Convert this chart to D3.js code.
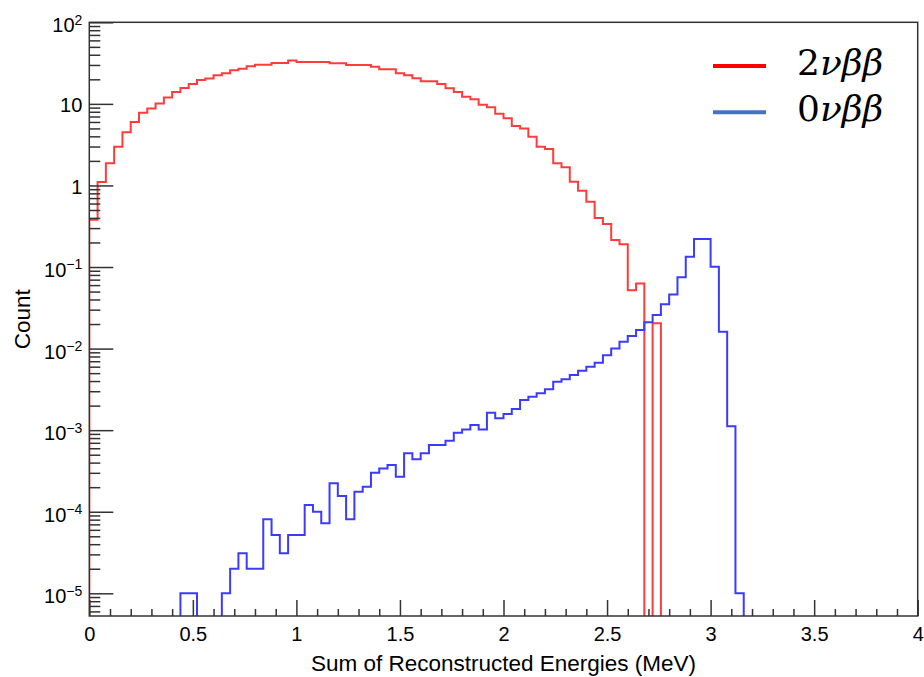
<!DOCTYPE html>
<html>
<head>
<meta charset="utf-8">
<script src="https://d3js.org/d3.v7.min.js"></script>
<style>
    body { margin: 0; background: #fff; }
    svg text { font-family: "Liberation Sans", Arial, Helvetica, sans-serif; fill: #000; }
</style>
</head>
<body>
<div id="chart"></div>
<script>
// histogram binning: 100 bins between 0 and 4 MeV
var xRange = [0, 4],
    nBins = 100;

// 2nu double beta (red), counts per bin
var counts2nu = [
    0.38, 1.1, 1.87, 2.98, 4.48, 6.0, 7.8, 8.8, 10.1, 12.0,
    14.0, 15.7, 17.5, 19.6, 20.4, 22.4, 23.7, 25.8, 27.0, 28.9,
    30.2, 30.2, 31.7, 31.7, 33.9, 32.6, 32.6, 32.6, 32.6, 31.4,
    31.4, 30.0, 30.0, 30.0, 28.6, 26.5, 26.5, 23.7, 22.4, 20.6,
    18.9, 18.9, 17.5, 15.5, 14.0, 12.2, 11.4, 9.77, 9.08, 7.59,
    6.65, 5.36, 5.0, 3.96, 2.98, 2.80, 1.87, 1.67, 1.11, 0.86,
    0.63, 0.40, 0.337, 0.214, 0.19, 0.052, 0.063, 0, 0.0204, 0,
    0, 0, 0, 0, 0, 0, 0, 0, 0, 0,
    0, 0, 0, 0, 0, 0, 0, 0, 0, 0,
    0, 0, 0, 0, 0, 0, 0, 0, 0, 0
];

// 0nu double beta (blue)
var counts0nu = [
    0, 0, 0, 0, 0, 0, 0, 0, 0, 0,
    0, 1e-5, 1e-5, 0, 0, 0, 1e-5, 2.0e-5, 3.1e-5, 2.0e-5,
    2.0e-5, 8.1e-5, 5.2e-5, 3.1e-5, 5.2e-5, 5.2e-5, 1.21e-4, 1.0e-4, 7.2e-5, 2.23e-4,
    1.56e-4, 8.1e-5, 1.76e-4, 2.03e-4, 3.0e-4, 3.4e-4, 3.74e-4, 2.69e-4, 5.2e-4, 4.4e-4,
    5.2e-4, 6.6e-4, 6.6e-4, 7.4e-4, 9.3e-4, 1.02e-3, 1.16e-3, 1.02e-3, 1.64e-3, 1.4e-3,
    1.58e-3, 1.82e-3, 2.34e-3, 2.57e-3, 2.83e-3, 3.17e-3, 3.93e-3, 4.2e-3, 4.74e-3, 5.36e-3,
    6.0e-3, 6.7e-3, 8.3e-3, 1.0e-2, 1.21e-2, 1.43e-2, 1.69e-2, 2.1e-2, 2.58e-2, 3.5e-2,
    4.6e-2, 7.5e-2, 0.134, 0.22, 0.22, 0.101, 1.61e-2, 1.12e-3, 1e-5, 0,
    0, 0, 0, 0, 0, 0, 0, 0, 0, 0,
    0, 0, 0, 0, 0, 0, 0, 0, 0, 0
];

var seriesLabels = ["2νββ", "0νββ"];
var xMajorTicks = [0, 0.5, 1, 1.5, 2, 2.5, 3, 3.5, 4];
var xMinorStep = 0.1;
var yDomain = [5.27e-6, 100];
var xTitle = "Sum of Reconstructed Energies (MeV)",
    yTitle = "Count";

var width = 924,
    height = 677,
    frame = { left: 89.3, right: 917.7, top: 22.3, bottom: 616 },
    axisColor = "#333";

var svg = d3.select("#chart").append("svg")
    .attr("width", width)
    .attr("height", height)
    .style("display", "block");

svg.append("rect").attr("width", width).attr("height", height).attr("fill", "#fff");

var x = d3.scaleLinear().domain(xRange).range([frame.left, frame.right]),
    y = d3.scaleLog().domain(yDomain).range([frame.bottom, frame.top]);

svg.append("clipPath").attr("id", "plotClip")
    .append("rect")
    .attr("x", frame.left).attr("y", frame.top)
    .attr("width", frame.right - frame.left)
    .attr("height", frame.bottom - frame.top);

var edges = d3.range(nBins + 1).map(function (i) {
    return xRange[0] + i * (xRange[1] - xRange[0]) / nBins;
});
// empty bins on a log axis fall below the frame (and get clipped)
var floorVal = yDomain[0] / 3;

function stepPoints(counts) {
    var pts = [[edges[0], floorVal]];
    counts.forEach(function (c, i) {
        pts.push([edges[i], c > 0 ? c : floorVal]);
    });
    pts.push([edges[nBins], floorVal]);
    return pts;
}

var line = d3.line()
    .x(function (d) { return x(d[0]); })
    .y(function (d) { return y(d[1]); })
    .curve(d3.curveStepAfter);

var hists = svg.append("g").attr("clip-path", "url(#plotClip)");
hists.append("path")
    .attr("d", line(stepPoints(counts2nu)))
    .attr("fill", "none").attr("stroke", "#ff3b3b").attr("stroke-width", 2);
hists.append("path")
    .attr("d", line(stepPoints(counts0nu)))
    .attr("fill", "none").attr("stroke", "#3b3bff").attr("stroke-width", 2);

// frame
svg.append("rect")
    .attr("x", frame.left).attr("y", frame.top)
    .attr("width", frame.right - frame.left)
    .attr("height", frame.bottom - frame.top)
    .attr("fill", "none").attr("stroke", axisColor).attr("stroke-width", 1.5);

// x axis: minor ticks then major ticks with labels
var xMinor = d3.range(xRange[0], xRange[1] + 1e-9, xMinorStep).filter(function (v) {
    return xMajorTicks.indexOf(Math.round(v * 10) / 10) < 0;
});
svg.append("g").attr("transform", "translate(0," + frame.bottom + ")")
    .call(d3.axisBottom(x).tickValues(xMinor).tickSize(-7).tickSizeOuter(0).tickFormat(""));
svg.append("g").attr("class", "xmajor").attr("transform", "translate(0," + frame.bottom + ")")
    .call(d3.axisBottom(x).tickValues(xMajorTicks).tickSize(-16).tickSizeOuter(0).tickPadding(11)
        .tickFormat(d3.format("")));

// y axis: log ticks, decades are major
var yAll = y.ticks(),
    isDecade = function (v) { return Math.abs(Math.log10(v) - Math.round(Math.log10(v))) < 1e-9; },
    yMajor = yAll.filter(isDecade),
    yMinor = yAll.filter(function (v) { return !isDecade(v); });

svg.append("g").attr("transform", "translate(" + frame.left + ",0)")
    .call(d3.axisLeft(y).tickValues(yMinor).tickSize(-11).tickSizeOuter(0).tickFormat(""));
var yAxisG = svg.append("g").attr("class", "ymajor").attr("transform", "translate(" + frame.left + ",0)")
    .call(d3.axisLeft(y).tickValues(yMajor).tickSize(-24).tickSizeOuter(0).tickPadding(7).tickFormat(""));

svg.selectAll(".domain").remove();
svg.selectAll(".tick line").attr("stroke", axisColor).attr("stroke-width", 1.5);
svg.selectAll(".xmajor text").attr("font-size", 20).attr("fill", "#000");

// ROOT style labels: 1, 10, otherwise 10^n
yAxisG.selectAll(".tick text").each(function (v) {
    var e = Math.round(Math.log10(v)),
        t = d3.select(this).attr("font-size", 20).attr("fill", "#000").text(null);
    if (e === 0 || e === 1) {
        t.attr("dy", "0.38em").text(e === 0 ? "1" : "10");
    } else {
        t.attr("dy", "0.48em").text("10");
        t.append("tspan").attr("font-size", 14).attr("dy", -7.7)
            .text((e < 0 ? "\u2212" : "") + Math.abs(e));
    }
});

// axis titles
svg.append("text")
    .attr("x", (frame.left + frame.right) / 2).attr("y", 671)
    .attr("text-anchor", "middle").attr("font-size", 22.5)
    .text(xTitle);
svg.append("text")
    .attr("transform", "translate(30," + (frame.top + frame.bottom) / 2 + ") rotate(-90)")
    .attr("text-anchor", "middle").attr("font-size", 22.5)
    .text(yTitle);

// legend
var legendColors = ["#ff0000", "#4472c4"],
    legendY = [66, 112.3];
seriesLabels.forEach(function (lbl, i) {
    svg.append("line")
        .attr("x1", 713).attr("x2", 766)
        .attr("y1", legendY[i]).attr("y2", legendY[i])
        .attr("stroke", legendColors[i]).attr("stroke-width", 4);
    var t = svg.append("text")
        .attr("x", 797).attr("y", legendY[i] + 8.5)
        .style("font-family", "'DejaVu Serif', serif")
        .attr("font-size", 36);
    t.append("tspan").text(lbl.charAt(0));
    t.append("tspan").style("font-style", "italic").text(lbl.slice(1));
});
</script>
</body>
</html>
